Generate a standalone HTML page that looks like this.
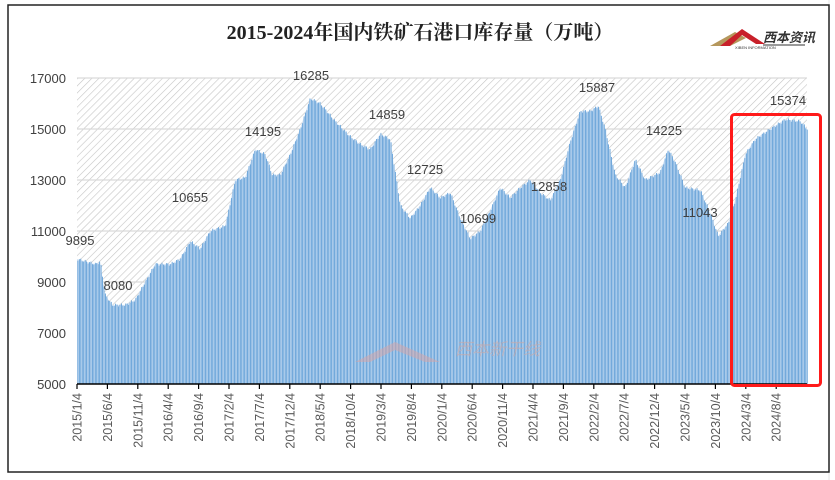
<!DOCTYPE html>
<html><head><meta charset="utf-8"><style>
html,body{margin:0;padding:0;background:#fff;}
svg{display:block;font-family:"Liberation Sans","Noto Sans CJK SC",sans-serif;}
</style></head><body>
<svg id="s" width="835" height="480" xmlns="http://www.w3.org/2000/svg">
<defs>
<pattern id="h" width="5" height="5" patternUnits="userSpaceOnUse" patternTransform="rotate(45)">
<line x1="0" y1="0" x2="0" y2="5" stroke="#c4c4c4" stroke-width="1.2"/>
</pattern>
</defs>
<rect x="0" y="0" width="835" height="480" fill="#fff"/>
<line x1="829" y1="0" x2="829" y2="480" stroke="#e6e6e6"/>
<rect x="8" y="5" width="821" height="467" fill="#fff" stroke="#222" stroke-width="1.5"/>
<text x="420" y="39" text-anchor="middle" font-family="Liberation Serif,'Noto Serif CJK SC',serif" font-size="20" font-weight="bold" fill="#222">2015-2024年国内铁矿石港口库存量（万吨）</text>
<g>
<polygon points="710,46 735,32 746,38 730,46" fill="#b5975c"/>
<polygon points="720,46 742,29 765,44 756,44 742,35 730,46" fill="#c8202a"/>
<text x="763" y="42" font-size="13" font-style="italic" font-weight="bold" fill="#333">西本资讯</text>
<line x1="763" y1="45" x2="805" y2="45" stroke="#333"/>
<text x="735" y="49" font-size="4" fill="#333">XIBEN INFORMATION</text>
</g>
<rect x="77" y="78" width="730" height="306" fill="url(#h)"/>
<g stroke="#d9d9d9" stroke-width="1.2">
<line x1="77" y1="78" x2="807" y2="78"/><line x1="77" y1="129" x2="807" y2="129"/>
<line x1="77" y1="180" x2="807" y2="180"/><line x1="77" y1="231" x2="807" y2="231"/>
<line x1="77" y1="282" x2="807" y2="282"/><line x1="77" y1="333" x2="807" y2="333"/>
</g>
<g id="bars"></g>
<line x1="77" y1="384" x2="807" y2="384" stroke="#000" stroke-width="1.5"/>
<g id="ticks"></g>
<g font-size="13" fill="#404040" text-anchor="end">
<text x="66" y="83">17000</text><text x="66" y="134">15000</text><text x="66" y="185">13000</text>
<text x="66" y="236">11000</text><text x="66" y="287">9000</text><text x="66" y="338">7000</text><text x="66" y="389">5000</text>
</g>
<g font-size="13" fill="#404040" text-anchor="middle">
<text x="80" y="245">9895</text><text x="118" y="290">8080</text><text x="190" y="202">10655</text>
<text x="263" y="136">14195</text><text x="311" y="80">16285</text><text x="387" y="119">14859</text>
<text x="425" y="174">12725</text><text x="478" y="223">10699</text><text x="549" y="191">12858</text>
<text x="597" y="92">15887</text><text x="664" y="135">14225</text><text x="700" y="217">11043</text>
<text x="788" y="105">15374</text>
</g>
<polygon points="355,362 395,342 440,362 425,362 395,350 370,362" fill="#d9a3a3" opacity="0.5"/>
<text x="455" y="355" font-size="17" font-style="italic" fill="#c9a9a9" opacity="0.6">西本新干线</text>
<rect x="731.5" y="114.5" width="89" height="271" rx="3" fill="none" stroke="#ff1a1a" stroke-width="3"/>
</svg>
<script>
var k=[[77,9900],[95,9700],[100,9800],[105,8500],[112,8100],[125,8100],[135,8300],[145,9000],[155,9700],[170,9700],[180,9900],[190,10600],[200,10300],[210,11000],[225,11200],[235,13000],[245,13100],[255,14200],[265,14000],[272,13200],[280,13200],[290,14000],[300,15000],[310,16200],[320,16000],[335,15300],[350,14700],[360,14400],[370,14200],[380,14800],[390,14600],[400,12000],[410,11500],[420,12000],[430,12700],[440,12300],[450,12500],[460,11500],[470,10700],[480,11000],[490,11800],[500,12700],[510,12300],[520,12700],[530,13000],[540,12500],[550,12200],[560,13000],[570,14500],[580,15700],[590,15700],[598,15900],[605,15000],[615,13200],[625,12700],[635,13800],[645,13000],[660,13300],[668,14200],[675,13700],[685,12700],[700,12600],[710,11700],[718,10800],[728,11300],[735,12200],[745,14000],[755,14600],[770,15000],[785,15374],[800,15300],[807,15000]];
function v(x){for(var i=1;i<k.length;i++){if(x<=k[i][0]){var a=k[i-1],b=k[i];return a[1]+(b[1]-a[1])*(x-a[0])/(b[0]-a[0]);}}return k[k.length-1][1];}
var g=document.getElementById("bars"),h='';
var pts="77,384 ";
for(var x=77;x<=807;x+=1){pts+=x+","+(384-(v(x)-5000)*0.0255).toFixed(1)+" ";}
pts+="807,384";
h+='<polygon points="'+pts+'" fill="#d3e3f5"/>';
for(var x=77.5;x<=807;x+=1.45){var y=384-(v(x)-5000)*0.0255+(Math.sin(x*3.1)*1.5);h+='<rect x="'+x.toFixed(2)+'" y="'+y.toFixed(1)+'" width="0.8" height="'+(384-y).toFixed(1)+'" fill="#5b9bd5"/>';}
g.innerHTML=h;
var labs=["2015/1/4","2015/6/4","2015/11/4","2016/4/4","2016/9/4","2017/2/4","2017/7/4","2017/12/4","2018/5/4","2018/10/4","2019/3/4","2019/8/4","2020/1/4","2020/6/4","2020/11/4","2021/4/4","2021/9/4","2022/2/4","2022/7/4","2022/12/4","2023/5/4","2023/10/4","2024/3/4","2024/8/4"];
var t='';
for(var i=0;i<labs.length;i++){var x=77+i*30.4;t+='<line x1="'+x+'" y1="384" x2="'+x+'" y2="389" stroke="#000" stroke-width="1.2"/>';
t+='<text transform="translate('+(x+4.5)+',393) rotate(-90)" text-anchor="end" font-size="12.5" fill="#595959">'+labs[i]+'</text>';}
document.getElementById("ticks").innerHTML=t;
</script>
</body></html>
